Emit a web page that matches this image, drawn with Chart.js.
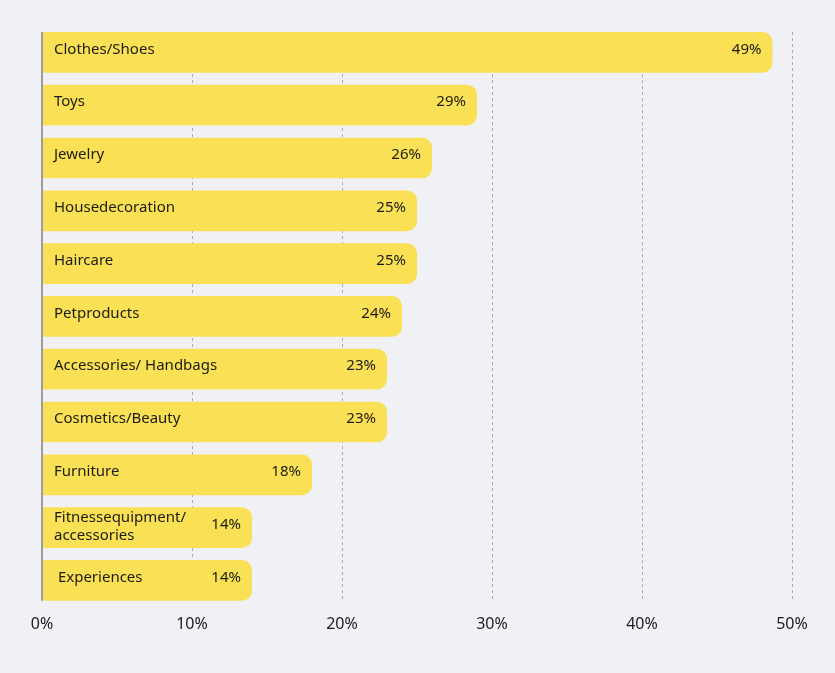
<!DOCTYPE html>
<html>
<head>
<meta charset="utf-8">
<script src="https://cdn.jsdelivr.net/npm/chart.js@4"></script>
<style>
  html, body { margin: 0; padding: 0; background: #eff1f4; }
  #wrap { width: 835px; height: 673px; }
</style>
</head>
<body>
<div id="wrap"><canvas id="giftChart" width="835" height="673"></canvas></div>
<script>
// categories and shares (percent of respondents)
const categories = [
    'Clothes/Shoes',
    'Toys',
    'Jewelry',
    'Housedecoration',
    'Haircare',
    'Petproducts',
    'Accessories/ Handbags',
    'Cosmetics/Beauty',
    'Furniture',
    ['Fitnessequipment/', 'accessories'],
    ' Experiences'
];
const shares = [48.7, 29, 26, 25, 25, 24, 23, 23, 18, 14, 14];
const tickValues = [0, 10, 20, 30, 40, 50];

const textColor = '#1c1c1c';
const fontFamily = '"Noto Sans", sans-serif';

function barSpan(chart) {
    const meta = chart.getDatasetMeta(0);
    const first = meta.data[0], last = meta.data[meta.data.length - 1];
    return [first.y - first.height / 2, last.y + last.height / 2];
}

// dashed grid spanning from the first bar top to the last bar bottom
const frame = {
    id: 'frame',
    beforeDatasetsDraw(chart) {
        const ctx = chart.ctx;
        const [top, bottom] = barSpan(chart);
        const x = chart.scales.x;
        ctx.save();
        ctx.strokeStyle = '#a9abae';
        ctx.lineWidth = 1;
        ctx.setLineDash([3, 3]);
        tickValues.slice(1).forEach(v => {
            const px = Math.round(x.getPixelForValue(v)) + 0.5;
            ctx.beginPath();
            ctx.moveTo(px, top);
            ctx.lineTo(px, bottom);
            ctx.stroke();
        });
        ctx.restore();
    },
    // the solid zero line sits on top of the bars
    afterDatasetsDraw(chart) {
        const ctx = chart.ctx;
        const [top, bottom] = barSpan(chart);
        const x0 = chart.scales.x.getPixelForValue(0);
        ctx.save();
        ctx.strokeStyle = '#9c9c9c';
        ctx.lineWidth = 2;
        ctx.beginPath();
        ctx.moveTo(x0, top);
        ctx.lineTo(x0, bottom);
        ctx.stroke();
        ctx.restore();
    }
};

// draws category name at the left of each bar and the value at its right end
const barText = {
    id: 'barText',
    afterDatasetsDraw(chart) {
        const ctx = chart.ctx;
        const meta = chart.getDatasetMeta(0);
        const left = chart.scales.x.getPixelForValue(0);
        ctx.save();
        ctx.font = '15px ' + fontFamily;
        ctx.fillStyle = textColor;
        ctx.textBaseline = 'middle';
        meta.data.forEach((bar, i) => {
            const y = bar.y - 3;
            const label = categories[i];
            ctx.textAlign = 'left';
            if (Array.isArray(label)) {
                ctx.fillText(label[0], left + 12, y - 7);
                ctx.fillText(label[1], left + 12, y + 11);
            } else {
                ctx.fillText(label, left + 12, y);
            }
            ctx.textAlign = 'right';
            ctx.fillText(Math.round(shares[i]) + '%', bar.x - 11, y);
        });
        ctx.restore();
    }
};

const ctx = document.getElementById('giftChart').getContext('2d');
new Chart(ctx, {
    type: 'bar',
    data: {
        labels: categories,
        datasets: [{
            data: shares,
            backgroundColor: '#f9e054',
            borderSkipped: 'start',
            borderRadius: { topRight: 10, bottomRight: 10, topLeft: 0, bottomLeft: 0 },
            barPercentage: 0.77,
            categoryPercentage: 1
        }]
    },
    options: {
        indexAxis: 'y',
        responsive: false,
        animation: false,
        layout: { padding: { left: 42, right: 43, top: 26, bottom: 31 } },
        plugins: {
            legend: { display: false },
            tooltip: { enabled: false }
        },
        scales: {
            x: {
                min: 0,
                max: 50,
                afterBuildTicks(scale) {
                    scale.ticks = tickValues.map(v => ({ value: v }));
                },
                ticks: {
                    padding: 8,
                    color: textColor,
                    font: { family: fontFamily, size: 16 },
                    callback: v => v + '%'
                },
                grid: { display: false, drawTicks: false },
                border: { display: false }
            },
            y: {
                ticks: { display: false },
                grid: { display: false, drawTicks: false },
                border: { display: false }
            }
        }
    },
    plugins: [frame, barText]
});
</script>
</body>
</html>
